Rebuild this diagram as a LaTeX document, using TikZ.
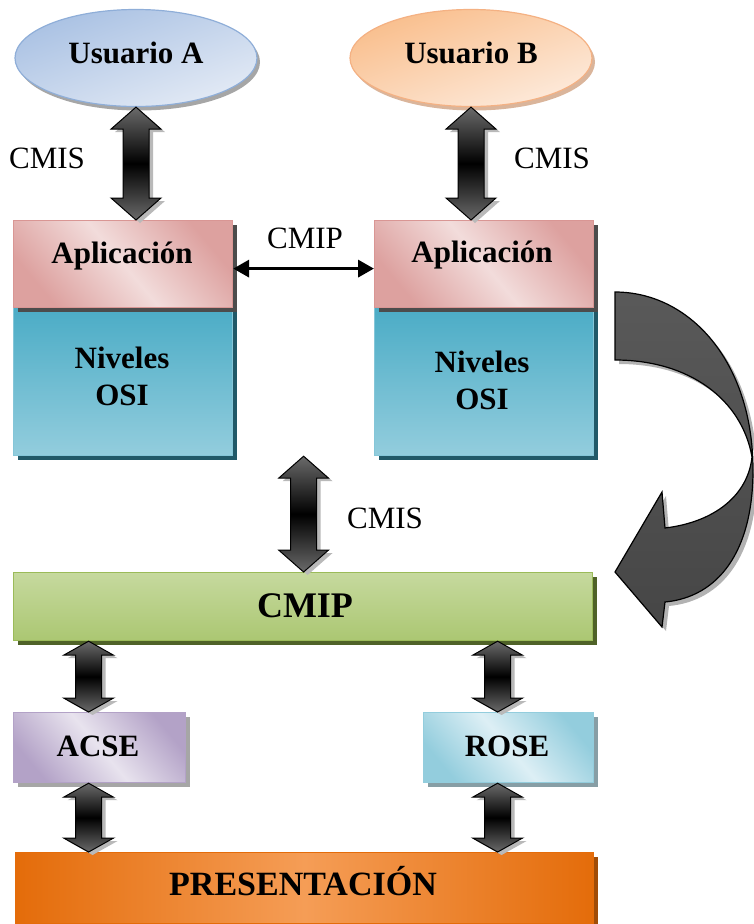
\documentclass[tikz,border=0pt]{standalone}
\usepackage{fontspec}
\setmainfont{Liberation Serif}
\usetikzlibrary{shapes.geometric,shadows,calc,arrows.meta}
\definecolor{uaT}{HTML}{A9C1E3}
\definecolor{uaB}{HTML}{E3EAF5}
\definecolor{uaD}{HTML}{8FAED8}
\definecolor{ubT}{HTML}{F9BE8C}
\definecolor{ubB}{HTML}{FDEADB}
\definecolor{ubD}{HTML}{F4B183}
\definecolor{pinkD}{HTML}{D99694}
\definecolor{pinkL}{HTML}{F2DCDB}
\definecolor{osiT}{HTML}{4BACC6}
\definecolor{osiB}{HTML}{93CDDD}
\definecolor{osiS}{HTML}{215968}
\definecolor{grT}{HTML}{C6D99E}
\definecolor{grB}{HTML}{ABC772}
\definecolor{grD}{HTML}{9BBB59}
\definecolor{grS}{HTML}{4F6228}
\definecolor{puD}{HTML}{B3A2C7}
\definecolor{puL}{HTML}{E8E3EE}
\definecolor{ltD}{HTML}{93CDDD}
\definecolor{ltL}{HTML}{DDEFF5}
\definecolor{orD}{HTML}{E46C0A}
\definecolor{orL}{HTML}{F59D56}
\definecolor{arrG}{HTML}{6A6A6A}
\newcommand\fs[1]{\fontsize{#1}{#1}\selectfont}
\newcommand\barr[3]{%
 \fill[gray!55] let \p1=(#1), \p2=(#2) in
  (\x1+4pt,\y1-3pt) -- (\x1+29pt,\y1-#3-3pt) -- (\x1+17pt,\y1-#3-3pt) -- (\x1+17pt,\y2+#3-3pt) -- (\x1+29pt,\y2+#3-3pt) -- (\x1+4pt,\y2-3pt) -- (\x1-21pt,\y2+#3-3pt) -- (\x1-9pt,\y2+#3-3pt) -- (\x1-9pt,\y1-#3-3pt) -- (\x1-21pt,\y1-#3-3pt) -- cycle;
 \draw[arrbody] let \p1=(#1), \p2=(#2) in
  (\x1,\y1) -- (\x1+25pt,\y1-#3) -- (\x1+13pt,\y1-#3) -- (\x1+13pt,\y2+#3) -- (\x1+25pt,\y2+#3) -- (\x1,\y2) -- (\x1-25pt,\y2+#3) -- (\x1-13pt,\y2+#3) -- (\x1-13pt,\y1-#3) -- (\x1-25pt,\y1-#3) -- cycle;
}
\begin{document}
\begin{tikzpicture}[x=1pt,y=-1pt,
  lbl/.style={font=\bfseries\fs{31}, inner sep=0, anchor=base},
  txt/.style={font=\fs{31}, inner sep=0, anchor=base},
  box/.style={rectangle, inner sep=0, anchor=north west, line width=1.2pt},
  diag/.style 2 args={top color=#1, bottom color=#1, middle color=#2, shading angle=-50},
  arrbody/.style={draw=black, line width=1pt, line join=miter, top color=arrG, bottom color=arrG, middle color=black},
  shd/.style={drop shadow={shadow xshift=4pt, shadow yshift=-4pt, fill=#1, opacity=1}}
]
\useasboundingbox (0,0) rectangle (753,924);

% users
\node[ellipse, minimum width=242pt, minimum height=97pt, inner sep=0, draw=uaD, line width=1.2pt,
  top color=uaT, bottom color=uaB, shading angle=20, drop shadow={shadow xshift=3pt, shadow yshift=-4pt, fill=gray, opacity=.7}] (ua) at (136,58) {};
\node[lbl] (uat) at (136,63) {Usuario A};
\node[ellipse, minimum width=242pt, minimum height=97pt, inner sep=0, draw=ubD, line width=1.2pt,
  top color=ubT, bottom color=ubB, shading angle=20, drop shadow={shadow xshift=3pt, shadow yshift=-4pt, fill=ubD!70!gray, opacity=.8}] (ub) at (471,58) {};
\node[lbl] (ubt) at (471,63) {Usuario B};

% stacks
\node[box, minimum width=219pt, minimum height=148pt, draw=osiB!80!osiT, top color=osiT, bottom color=osiB, shd=osiS] (osiA) at (13,307) {};
\node[box, minimum width=219pt, minimum height=87pt, draw=pinkD, diag={pinkD!85!pinkL}{pinkL}, shd=gray!60!black] (appA) at (13,220) {};
\node[box, minimum width=219pt, minimum height=148pt, draw=osiB!80!osiT, top color=osiT, bottom color=osiB, shd=osiS] (osiB) at (374,307) {};
\node[box, minimum width=219pt, minimum height=87pt, draw=pinkD, diag={pinkD!85!pinkL}{pinkL}, shd=gray!60!black] (appB) at (374,220) {};

\node[lbl] (appAt) at (122,263) {Aplicación};
\node[lbl] (osiAt) at (122,368) {Niveles};
\node[lbl] (osiAt2) at (122,405) {OSI};
\node[lbl] (appBt) at (482,262) {Aplicación};
\node[lbl] (osiBt) at (482,372) {Niveles};
\node[lbl] (osiBt2) at (482,409) {OSI};

% CMIP peer link
\draw[{Triangle[length=16pt,width=17pt]}-{Triangle[length=16pt,width=17pt]}, line width=3.5pt]
  ([yshift=-4.5pt]appA.east) -- ([yshift=-4.5pt]appB.west);
\node[txt] (cmipl) at (305,248) {CMIP};

% lower stack
\node[box, minimum width=579pt, minimum height=68pt, draw=grD, top color=grT, bottom color=grB, shd=grS] (cmip) at (13,572) {};
\node[lbl, font=\bfseries\fs{36}] (cmipt) at (305,617) {CMIP};
\node[box, minimum width=172pt, minimum height=70pt, draw=puD, diag={puD}{puL}, shd=gray!70] (acse) at (13,712) {};
\node[lbl] (acset) at (98,756) {ACSE};
\node[box, minimum width=170pt, minimum height=70pt, draw=ltD, diag={ltD}{ltL}, shd=gray!60!ltD] (rose) at (423,712) {};
\node[lbl] (roset) at (507,756) {ROSE};
\node[box, minimum width=578pt, minimum height=71pt, draw=orD, left color=orD, right color=orD, middle color=orL, shd=orD!70!black] (pres) at (15,852) {};
\node[lbl, font=\bfseries\fs{34}] (prest) at (303,895) {PRESENTACIÓN};

% block arrows
\coordinate (a1t) at (ua.south);
\coordinate (a1b) at (appA.north -| ua.south);
\barr{a1t}{a1b}{22pt}
\coordinate (a2t) at (ub.south);
\coordinate (a2b) at (appB.north -| ub.south);
\barr{a2t}{a2b}{22pt}
\coordinate (mt) at ($(osiA.south east)!0.5!(osiB.south west)$);
\coordinate (mb) at (mt |- cmip.north);
\barr{mt}{mb}{22pt}
\coordinate (acx) at ([xshift=-11pt]acse.north);
\coordinate (rox) at ([xshift=-11pt]rose.north);
\coordinate (s1t) at (acx |- cmip.south);
\coordinate (s2t) at (rox |- cmip.south);
\coordinate (s3b) at (acx |- pres.north);
\coordinate (s4b) at (rox |- pres.north);
\coordinate (s3t) at (acx |- acse.south);
\coordinate (s4t) at (rox |- rose.south);
\barr{s1t}{acx}{14pt}
\barr{s2t}{rox}{14pt}
\barr{s3t}{s3b}{14pt}
\barr{s4t}{s4b}{14pt}

\node[txt] (cmis1) at (47,168) {CMIS};
\node[txt] (cmis2) at (552,168) {CMIS};
\node[txt] (cmis3) at (385,528) {CMIS};

% curved arrow
\fill[gray!60, shift={(4,4)}]
  (615,292) .. controls (690,292) and (753,362) .. (753,470)
  .. controls (753,552) and (718,597) .. (665,602) -- (662,627) -- (615,572) -- (662,492) -- (665,528)
  .. controls (715,522) and (748,495) .. (752,457)
  .. controls (742,400) and (690,360) .. (615,360) -- cycle;
\draw[black, line width=1.2pt, line join=miter, top color=gray!70!black, middle color=black!90, bottom color=gray!55!black]
  (615,292) .. controls (690,292) and (753,362) .. (753,470)
  .. controls (753,552) and (718,597) .. (665,602) -- (662,627) -- (615,572) -- (662,492) -- (665,528)
  .. controls (715,522) and (748,495) .. (752,457)
  .. controls (742,400) and (690,360) .. (615,360) -- cycle;
\end{tikzpicture}
\end{document}
